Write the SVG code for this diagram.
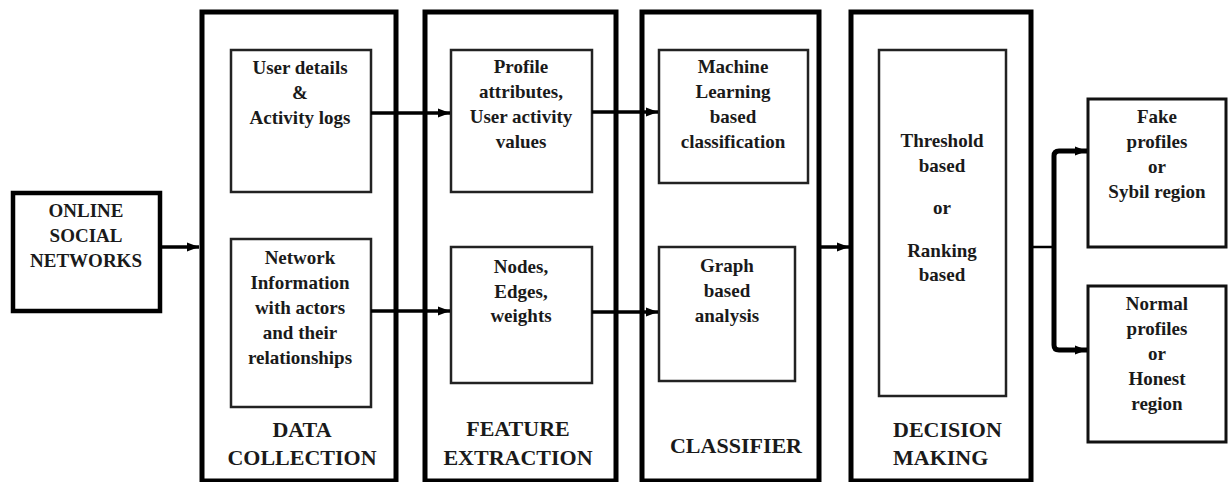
<svg xmlns="http://www.w3.org/2000/svg" width="1228" height="482" viewBox="0 0 1228 482">
<style>
text{font-family:'Liberation Serif','DejaVu Serif',serif;font-weight:bold;fill:#1a1a1a;text-anchor:middle}
.in{font-size:19px}
.hd{font-size:22px}
.outer{fill:#fff;stroke:#000;stroke-width:5}
.inner{fill:#fff;stroke:#222;stroke-width:2.5}
.src{fill:#fff;stroke:#000;stroke-width:4.5}
.out{fill:#fff;stroke:#111;stroke-width:3}
.c{fill:none;stroke:#000;stroke-width:3.5}
.ck{fill:none;stroke:#000;stroke-width:5;stroke-linejoin:round}
.thin{fill:none;stroke:#000;stroke-width:2.5}
</style>
<defs>
<marker id="ah" markerUnits="userSpaceOnUse" markerWidth="12" markerHeight="12" viewBox="0 0 12 12" refX="12" refY="6" orient="auto">
<path d="M0,1.5 L12,6 L0,10.5 Z" fill="#000"/>
</marker>
</defs>
<rect width="1228" height="482" fill="#fff"/>
<g font-family="Liberation Serif, DejaVu Serif, serif">
<g id="online-social-networks">
<rect class="src" x="13" y="193" width="147" height="118"/>
<text class="in" x="86" y="217">ONLINE</text>
<text class="in" x="86" y="242">SOCIAL</text>
<text class="in" x="86" y="267">NETWORKS</text>
</g>

<g id="data-collection">
<rect class="outer" x="202" y="12" width="194" height="469"/>
<text class="hd" x="302" y="437">DATA</text>
<text class="hd" x="302" y="465">COLLECTION</text>
</g>
<g id="user-details">
<rect class="inner" x="231" y="50" width="140" height="142"/>
<text class="in" x="300" y="74">User details</text>
<text class="in" x="300" y="99">&amp;</text>
<text class="in" x="300" y="124">Activity  logs</text>
</g>
<g id="network-information">
<rect class="inner" x="231" y="239" width="140" height="168"/>
<text class="in" x="300" y="264">Network</text>
<text class="in" x="300" y="289">Information</text>
<text class="in" x="300" y="314">with actors</text>
<text class="in" x="300" y="339">and their</text>
<text class="in" x="300" y="364">relationships</text>
</g>

<g id="feature-extraction">
<rect class="outer" x="425" y="12" width="191" height="469"/>
<text class="hd" x="518" y="436">FEATURE</text>
<text class="hd" x="518" y="465">EXTRACTION</text>
</g>
<g id="profile-attributes">
<rect class="inner" x="451" y="50" width="141" height="142"/>
<text class="in" x="521" y="73">Profile</text>
<text class="in" x="521" y="98">attributes,</text>
<text class="in" x="521" y="123">User activity</text>
<text class="in" x="521" y="148">values</text>
</g>
<g id="nodes-edges-weights">
<rect class="inner" x="451" y="247" width="141" height="136"/>
<text class="in" x="521" y="273">Nodes,</text>
<text class="in" x="521" y="298">Edges,</text>
<text class="in" x="521" y="322">weights</text>
</g>

<g id="classifier">
<rect class="outer" x="642" y="12" width="177" height="469"/>
<text class="hd" x="736" y="453">CLASSIFIER</text>
</g>
<g id="machine-learning">
<rect class="inner" x="659" y="50" width="149" height="133"/>
<text class="in" x="733" y="73">Machine</text>
<text class="in" x="733" y="98">Learning</text>
<text class="in" x="733" y="123">based</text>
<text class="in" x="733" y="148">classification</text>
</g>
<g id="graph-analysis">
<rect class="inner" x="659" y="247" width="136" height="134"/>
<text class="in" x="727" y="272">Graph</text>
<text class="in" x="727" y="297">based</text>
<text class="in" x="727" y="322">analysis</text>
</g>

<g id="decision-making">
<rect class="outer" x="851" y="12" width="180" height="469"/>
<text class="hd" x="893" y="437" style="text-anchor:start">DECISION</text>
<text class="hd" x="893" y="465" style="text-anchor:start">MAKING</text>
</g>
<g id="threshold-ranking">
<rect class="inner" x="879" y="50" width="127" height="346"/>
<text class="in" x="942" y="147">Threshold</text>
<text class="in" x="942" y="172">based</text>
<text class="in" x="942" y="214">or</text>
<text class="in" x="942" y="257">Ranking</text>
<text class="in" x="942" y="281">based</text>
</g>

<g id="fake-profiles">
<rect class="out" x="1088" y="99" width="138" height="148"/>
<text class="in" x="1157" y="123">Fake</text>
<text class="in" x="1157" y="148">profiles</text>
<text class="in" x="1157" y="173">or</text>
<text class="in" x="1157" y="198">Sybil region</text>
</g>
<g id="normal-profiles">
<rect class="out" x="1088" y="286" width="138" height="156"/>
<text class="in" x="1157" y="310">Normal</text>
<text class="in" x="1157" y="335">profiles</text>
<text class="in" x="1157" y="360">or</text>
<text class="in" x="1157" y="385">Honest</text>
<text class="in" x="1157" y="410">region</text>
</g>
</g>
<g id="connectors">
<line class="c" x1="160" y1="247" x2="199" y2="247" marker-end="url(#ah)"/>
<line class="c" x1="371" y1="113" x2="450" y2="113" marker-end="url(#ah)"/>
<line class="c" x1="371" y1="311" x2="450" y2="311" marker-end="url(#ah)"/>
<line class="c" x1="592" y1="112" x2="658" y2="112" marker-end="url(#ah)"/>
<line class="c" x1="592" y1="312" x2="658" y2="312" marker-end="url(#ah)"/>
<line class="c" x1="819" y1="247" x2="849" y2="247" marker-end="url(#ah)"/>
<line class="thin" x1="1032" y1="247" x2="1054" y2="247"/>
<path class="ck" d="M1054,247 V156 Q1054,151 1059,151 H1087" marker-end="url(#ah)"/>
<path class="ck" d="M1054,247 V345 Q1054,350 1059,350 H1087" marker-end="url(#ah)"/>
</g>
</svg>
